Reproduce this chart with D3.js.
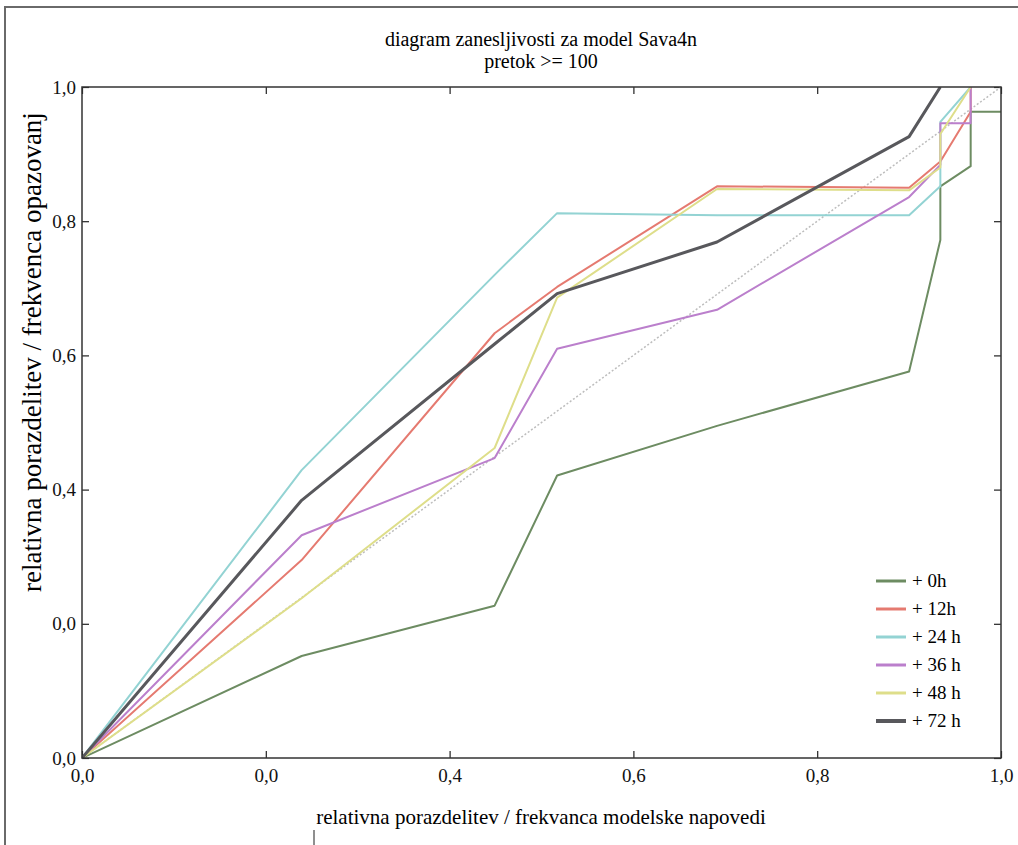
<!DOCTYPE html>
<html lang="sl">
<head>
<meta charset="utf-8">
<title>diagram zanesljivosti</title>
<script src="https://cdnjs.cloudflare.com/ajax/libs/d3/7.8.5/d3.min.js"></script>
<style>
  body { margin: 0; background: #fff; }
  svg { display: block; font-family: "Liberation Serif", "DejaVu Serif", serif; }
</style>
</head>
<body>
<div id="graph"></div>
<script>
// tick values and the labels as printed on the original
const tickVals = [0, 0.2, 0.4, 0.6, 0.8, 1.0];
const xTickLabels = ["0,0", "0,0", "0,4", "0,6", "0,8", "1,0"];
const yTickLabels = ["0,0", "0,0", "0,4", "0,6", "0,8", "1,0"];

const seriesNames = ["+ 0h", "+ 12h", "+ 24 h", "+ 36 h", "+ 48 h", "+ 72 h"];

// forecast frequency (x) / observed frequency (y)
const h0 = [[0,0],[0.239,0.152],[0.449,0.227],[0.517,0.421],[0.691,0.495],[0.900,0.576],[0.934,0.772],[0.934,0.852],[0.967,0.882],[0.967,0.963],[1.0,0.963]];
const h12 = [[0,0],[0.239,0.295],[0.449,0.633],[0.517,0.702],[0.691,0.852],[0.900,0.850],[0.934,0.889],[0.967,0.963],[0.967,1.0]];
const h24 = [[0,0],[0.239,0.429],[0.449,0.72],[0.517,0.812],[0.691,0.809],[0.900,0.809],[0.934,0.852],[0.934,0.948],[0.967,1.0]];
const h36 = [[0,0],[0.239,0.332],[0.449,0.447],[0.517,0.610],[0.691,0.668],[0.900,0.836],[0.934,0.884],[0.934,0.946],[0.967,0.946],[0.967,1.0]];
const h48 = [[0,0],[0.239,0.238],[0.449,0.462],[0.517,0.686],[0.691,0.848],[0.900,0.846],[0.934,0.88],[0.934,0.93],[0.967,1.0]];
const h72 = [[0,0],[0.239,0.384],[0.449,0.617],[0.517,0.692],[0.691,0.769],[0.900,0.926],[0.934,1.0]];

const seriesData = [h0, h12, h24, h36, h48, h72];
const colors = ["#6d8c62", "#e57a70", "#93d3d3", "#bb7fcc", "#dede8a", "#58585c"];
const widths = [2, 2, 2, 2, 2, 3];

const W = 1018, H = 845;
const mLeft = 82, mRight = 1001, mTop = 87, mBottom = 758;

const svg = d3.select("#graph").append("svg")
  .attr("width", W).attr("height", H);

// outer frame (only top and left edges visible)
svg.append("path")
  .attr("d", "M5," + H + " V7 H" + W)
  .attr("fill", "none").attr("stroke", "#6a6a6a").attr("stroke-width", 2);
svg.append("line")
  .attr("x1", 314).attr("x2", 314).attr("y1", 830).attr("y2", H)
  .attr("stroke", "#6a6a6a").attr("stroke-width", 1.5);

const x = d3.scaleLinear().domain([0, 1]).range([mLeft, mRight]);
const y = d3.scaleLinear().domain([0, 1]).range([mBottom, mTop]);

svg.append("defs").append("clipPath").attr("id", "clip")
  .append("rect").attr("x", mLeft).attr("y", mTop)
  .attr("width", mRight - mLeft).attr("height", mBottom - mTop);

// title
svg.append("text").attr("x", 541).attr("y", 46).attr("text-anchor", "middle")
  .attr("font-size", 20).text("diagram zanesljivosti za model Sava4n");
svg.append("text").attr("x", 541).attr("y", 68).attr("text-anchor", "middle")
  .attr("font-size", 20).text("pretok >= 100");

// axes, ticks pointing inward
const gx = svg.append("g").attr("transform", "translate(0," + mBottom + ")")
  .call(d3.axisTop(x).tickValues(tickVals).tickSize(7).tickFormat((d, i) => xTickLabels[i]));
const gxTop = svg.append("g").attr("transform", "translate(0," + mTop + ")")
  .call(d3.axisBottom(x).tickValues(tickVals).tickSize(7).tickFormat(""));
const gy = svg.append("g").attr("transform", "translate(" + mLeft + ",0)")
  .call(d3.axisRight(y).tickValues(tickVals).tickSize(7).tickFormat((d, i) => yTickLabels[i]));
const gyRight = svg.append("g").attr("transform", "translate(" + mRight + ",0)")
  .call(d3.axisLeft(y).tickValues(tickVals).tickSize(7).tickFormat(""));

[gx, gxTop, gy, gyRight].forEach(g => {
  g.attr("font-family", null).attr("font-size", 19);
  g.select(".domain").remove();
  g.selectAll(".tick line").attr("stroke", "#222").attr("stroke-width", 1.2);
  g.selectAll(".tick text").attr("fill", "#111");
});
gx.selectAll(".tick text").attr("y", 11).attr("dy", "0.71em");
gy.selectAll(".tick text").attr("x", -6).attr("text-anchor", "end");

// diagonal reference line
svg.append("line")
  .attr("x1", x(0)).attr("y1", y(0)).attr("x2", x(1)).attr("y2", y(1))
  .attr("stroke", "#bdbdbd").attr("stroke-width", 1.5).attr("stroke-dasharray", "2,2");

const line = d3.line().x(d => x(d[0])).y(d => y(d[1]));
const plot = svg.append("g").attr("clip-path", "url(#clip)");
seriesData.forEach((s, i) => {
  plot.append("path").datum(s)
    .attr("d", line)
    .attr("fill", "none")
    .attr("stroke", colors[i])
    .attr("stroke-width", widths[i])
    .attr("stroke-linejoin", "round");
});

// plot frame
svg.append("rect").attr("x", mLeft).attr("y", mTop)
  .attr("width", mRight - mLeft).attr("height", mBottom - mTop)
  .attr("fill", "none").attr("stroke", "#333").attr("stroke-width", 1.5);

// axis titles
svg.append("text").attr("x", 541).attr("y", 824).attr("text-anchor", "middle")
  .attr("font-size", 21).text("relativna porazdelitev / frekvanca modelske napovedi");
svg.append("text").attr("transform", "translate(41,352) rotate(-90)")
  .attr("text-anchor", "middle").attr("font-size", 27)
  .text("relativna porazdelitev / frekvenca opazovanj");

// legend
const legend = svg.append("g").attr("id", "legend");
seriesNames.forEach((name, i) => {
  const ly = 581 + i * 28;
  legend.append("line").attr("x1", 876).attr("x2", 906).attr("y1", ly).attr("y2", ly)
    .attr("stroke", colors[i]).attr("stroke-width", widths[i] + 1);
  legend.append("text").attr("x", 912).attr("y", ly + 6)
    .attr("font-size", 19).text(name);
});
</script>
</body>
</html>
